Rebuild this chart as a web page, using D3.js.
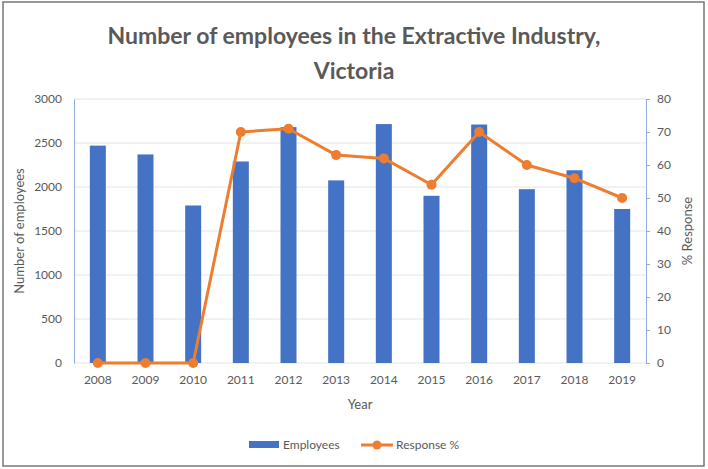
<!DOCTYPE html>
<html>
<head>
<meta charset="utf-8">
<script src="https://cdn.jsdelivr.net/npm/d3@7"></script>
<style>
  body { margin: 0; background: #fff; }
  svg text { font-family: "Lato", "Open Sans", sans-serif; fill: #595959; }
</style>
</head>
<body>
<svg id="chart" width="708" height="469"></svg>
<script>
// data
var years = ["2008", "2009", "2010", "2011", "2012", "2013", "2014", "2015", "2016", "2017", "2018", "2019"];
var employees = [2470, 2370, 1790, 2290, 2680, 2075, 2715, 1900, 2710, 1975, 2190, 1750];
var response = [0, 0, 0, 70, 71, 63, 62, 54, 70, 60, 56, 50];
var leftTicks = [0, 500, 1000, 1500, 2000, 2500, 3000];
var rightTicks = [0, 10, 20, 30, 40, 50, 60, 70, 80];

var blue = "#4472c4", orange = "#ed7d31";
var svg = d3.select("#chart");

// frame
svg.append("rect")
    .attr("x", 3).attr("y", 2).attr("width", 701).attr("height", 464)
    .attr("fill", "#fff").attr("stroke", "#777").attr("stroke-width", 1.5);

var pLeft = 74, pRight = 646, pTop = 99, pBottom = 363;

var x = d3.scaleBand().domain(years).range([pLeft, pRight]);
var yL = d3.scaleLinear().domain([0, 3000]).range([pBottom, pTop]);
var yR = d3.scaleLinear().domain([0, 80]).range([pBottom, pTop]);

// gridlines
svg.append("g")
    .selectAll("line")
    .data(leftTicks)
    .enter().append("line")
        .attr("x1", pLeft).attr("x2", pRight)
        .attr("y1", function(d) { return yL(d); })
        .attr("y2", function(d) { return yL(d); })
        .attr("stroke", "#e3e3e3").attr("stroke-width", 1);

// bars
var bw = 16;
svg.append("g")
    .selectAll("rect")
    .data(employees)
    .enter().append("rect")
        .attr("x", function(d, i) { return x(years[i]) + x.bandwidth() / 2 - bw / 2; })
        .attr("y", function(d) { return yL(d); })
        .attr("width", bw)
        .attr("height", function(d) { return pBottom - yL(d); })
        .attr("fill", blue);

// left axis
var axL = svg.append("g")
    .attr("transform", "translate(" + pLeft + ",0)")
    .call(d3.axisLeft(yL).tickValues(leftTicks).tickFormat(d3.format("d")).tickSize(0).tickPadding(12));
axL.select(".domain").attr("stroke", "#8faadc").attr("stroke-width", 1);
axL.selectAll("text").style("font-size", "12px").attr("fill", "#595959");

// right axis
var axR = svg.append("g")
    .attr("transform", "translate(" + pRight + ",0)")
    .call(d3.axisRight(yR).tickValues(rightTicks).tickSize(4).tickSizeOuter(4).tickPadding(7));
axR.select(".domain").attr("stroke", "#8faadc").attr("stroke-width", 1);
axR.selectAll("line").attr("stroke", "#8faadc");
axR.selectAll("text").style("font-size", "12px").attr("fill", "#595959");

// x axis labels
var axX = svg.append("g")
    .attr("transform", "translate(0," + pBottom + ")")
    .call(d3.axisBottom(x).tickSize(0).tickPadding(12));
axX.select(".domain").remove();
axX.selectAll("text").style("font-size", "12px").attr("fill", "#595959");

// line
var line = d3.line()
    .x(function(d, i) { return x(years[i]) + x.bandwidth() / 2; })
    .y(function(d) { return yR(d); });

svg.append("path")
    .datum(response)
    .attr("d", line)
    .attr("fill", "none")
    .attr("stroke", orange)
    .attr("stroke-width", 3)
    .attr("stroke-linejoin", "round");

svg.append("g")
    .selectAll("circle")
    .data(response)
    .enter().append("circle")
        .attr("cx", function(d, i) { return x(years[i]) + x.bandwidth() / 2; })
        .attr("cy", function(d) { return yR(d); })
        .attr("r", 5)
        .attr("fill", orange);

// titles
svg.append("text").attr("x", 354).attr("y", 44)
    .attr("text-anchor", "middle")
    .style("font-size", "23px").style("font-weight", "bold")
    .text("Number of employees in the Extractive Industry,");
svg.append("text").attr("x", 354).attr("y", 79)
    .attr("text-anchor", "middle")
    .style("font-size", "23px").style("font-weight", "bold")
    .text("Victoria");

svg.append("text").attr("x", 360).attr("y", 409)
    .attr("text-anchor", "middle").style("font-size", "13px")
    .text("Year");

svg.append("text")
    .attr("transform", "translate(24,231) rotate(-90)")
    .attr("text-anchor", "middle").style("font-size", "13px")
    .text("Number of employees");

svg.append("text")
    .attr("transform", "translate(692,231) rotate(-90)")
    .attr("text-anchor", "middle").style("font-size", "13px")
    .text("% Response");

// legend
var lg = svg.append("g");
lg.append("rect").attr("x", 249).attr("y", 441).attr("width", 30).attr("height", 7).attr("fill", blue);
lg.append("text").attr("x", 283).attr("y", 449).style("font-size", "12px").text("Employees");
lg.append("line").attr("x1", 361).attr("x2", 393).attr("y1", 445).attr("y2", 445)
    .attr("stroke", orange).attr("stroke-width", 3);
lg.append("circle").attr("cx", 377).attr("cy", 445).attr("r", 4.5).attr("fill", orange);
lg.append("text").attr("x", 396).attr("y", 449).style("font-size", "12px").text("Response %");
</script>
</body>
</html>
